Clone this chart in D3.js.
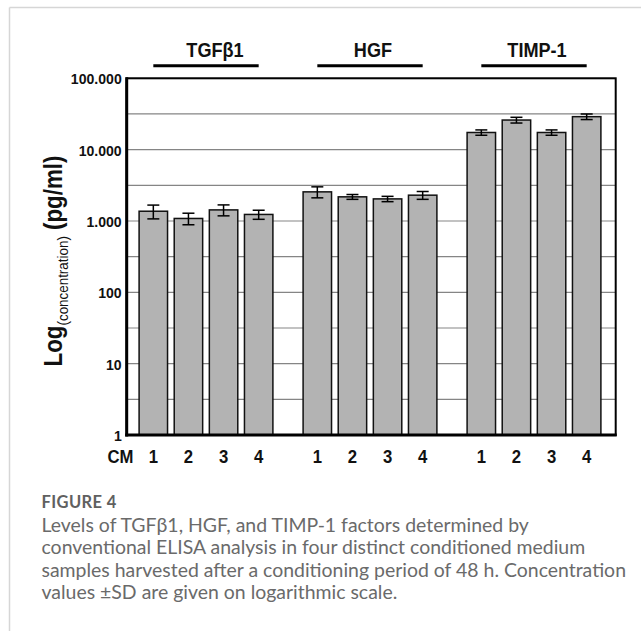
<!DOCTYPE html>
<html><head><meta charset="utf-8">
<script src="https://cdn.jsdelivr.net/npm/d3@7"></script>
<style>
html,body{margin:0;padding:0;background:#fff;}
svg{display:block;}
</style>
</head><body>
<script>
const groups = ["TGFβ1", "HGF", "TIMP-1"];
const samples = ["1", "2", "3", "4"];
const tgfValues = [1370, 1085, 1430, 1235];
const tgfSD = [300, 200, 250, 180];
const hgfValues = [2560, 2180, 2040, 2300];
const hgfSD = [450, 170, 175, 290];
const timpValues = [17400, 26000, 17400, 29000];
const timpSD = [1500, 2400, 1500, 2600];
const yTicks = [1, 10, 100, 1000, 10000, 100000];
const yTickLabels = ["1", "10", "100", "1.000", "10.000", "100.000"];
const yGrid = [1, 3.1623, 10, 31.623, 100, 316.23, 1000, 3162.3, 10000, 31623, 100000];
const captionTitle = "FIGURE 4";
const captionLines = [
  "Levels of TGFβ1, HGF, and TIMP-1 factors determined by",
  "conventional ELISA analysis in four distinct conditioned medium",
  "samples harvested after a conditioning period of 48 h. Concentration",
  "values \u00B1SD are given on logarithmic scale."
];

(function () {
const seriesValues = [tgfValues, hgfValues, timpValues];
const seriesSD = [tgfSD, hgfSD, timpSD];
const data = [];
groups.forEach((g, gi) => samples.forEach((s, si) => data.push({g, s, v: seriesValues[gi][si], sd: seriesSD[gi][si]})));

const W = 641, H = 631;
const pL = 126.7, pR = 615.7, pT = 78.3, pB = 435;
const svg = d3.select("body").append("svg").attr("width", W).attr("height", H);

// page frame
svg.append("line").attr("x1", 9.5).attr("x2", W).attr("y1", 7.5).attr("y2", 7.5).attr("stroke", "#d6d6d6").attr("stroke-width", 1.5);
svg.append("line").attr("x1", 9.5).attr("x2", 9.5).attr("y1", 7.5).attr("y2", H).attr("stroke", "#d6d6d6").attr("stroke-width", 1.5);

const y = d3.scaleLog().domain([1, 100000]).range([pB, pT]);
const xg = d3.scaleBand().domain(groups).range([124, 616]).padding(0);
const xs = d3.scaleBand().domain(samples).range([0, xg.bandwidth()]).paddingInner(0.19).paddingOuter(0.43);
const bx = d => xg(d.g) + xs(d.s);
const cx = d => bx(d) + xs.bandwidth() / 2;

// gridlines
svg.append("g").selectAll("line").data(yGrid).join("line")
  .attr("x1", pL).attr("x2", pR)
  .attr("y1", d => y(d)).attr("y2", d => y(d))
  .attr("stroke", "#858585").attr("stroke-width", 1.2);

// bars
svg.append("g").selectAll("rect").data(data).join("rect")
  .attr("x", d => bx(d)).attr("width", xs.bandwidth())
  .attr("y", d => y(d.v)).attr("height", d => pB - y(d.v))
  .attr("fill", "#b3b3b3").attr("stroke", "#111").attr("stroke-width", 1.5);

// error bars
const eb = svg.append("g").attr("stroke", "#000").attr("stroke-width", 1.5);
eb.selectAll("line.v").data(data).join("line").attr("class", "v")
  .attr("x1", cx).attr("x2", cx).attr("y1", d => y(d.v + d.sd)).attr("y2", d => y(d.v - d.sd));
eb.selectAll("line.t").data(data).join("line").attr("class", "t")
  .attr("x1", d => cx(d) - 6).attr("x2", d => cx(d) + 6).attr("y1", d => y(d.v + d.sd)).attr("y2", d => y(d.v + d.sd));
eb.selectAll("line.b").data(data).join("line").attr("class", "b")
  .attr("x1", d => cx(d) - 6).attr("x2", d => cx(d) + 6).attr("y1", d => y(d.v - d.sd)).attr("y2", d => y(d.v - d.sd));

// frame
svg.append("rect").attr("x", pL).attr("y", pT).attr("width", pR - pL).attr("height", pB - pT)
  .attr("fill", "none").attr("stroke", "#000").attr("stroke-width", 2);
svg.append("line").attr("x1", pL).attr("x2", pL).attr("y1", pT - 1).attr("y2", pB + 1.5).attr("stroke", "#000").attr("stroke-width", 3);
svg.append("line").attr("x1", pL - 1.5).attr("x2", pR + 1).attr("y1", pB).attr("y2", pB).attr("stroke", "#000").attr("stroke-width", 3);

const font = "'Liberation Sans', Arial, sans-serif";
// condensed text helper: draws text at (x,y) compressed horizontally by sx
function ctext(parent, x, yy, sx, str, size, anchor, extra) {
  const g = parent.append("g").attr("transform", `translate(${x},${yy}) scale(${sx},1)`);
  const t = g.append("text").attr("x", 0).attr("y", 0).attr("text-anchor", anchor)
    .attr("font-family", font).attr("font-weight", "bold").attr("font-size", size).attr("fill", "#111").text(str);
  return t;
}

// y tick labels
const tg = svg.append("g");
yTicks.forEach((d, i) => ctext(tg, pL - 5, y(d) + 6, 0.92, yTickLabels[i], 15.3, "end"));

// x labels
const xl = svg.append("g");
data.forEach(d => ctext(xl, cx(d), 463.3, 0.88, d.s, 19, "middle"));
ctext(xl, 133.5, 463.3, 0.88, "CM", 19, "end");

// group labels and lines
groups.forEach(g => {
  const first = data.find(d => d.g === g && d.s === samples[0]);
  const last = data.find(d => d.g === g && d.s === samples[samples.length - 1]);
  svg.append("line").attr("x1", cx(first)).attr("x2", cx(last)).attr("y1", 65.7).attr("y2", 65.7)
    .attr("stroke", "#000").attr("stroke-width", 3);
  ctext(svg, (cx(first) + cx(last)) / 2 + (g === groups[0] ? 9 : 3), 56.8, 0.93, g, 19.5, "middle");
});

// y title (rotated, condensed along its length)
const tgTitle = svg.append("g");
const yt = tgTitle.append("text").attr("text-anchor", "middle").attr("font-family", font).attr("fill", "#111");
yt.append("tspan").attr("font-weight", "bold").attr("font-size", 25).text("Log");
yt.append("tspan").attr("font-size", 15).attr("dy", 5.5).text("(concentration)");
yt.append("tspan").attr("font-weight", "bold").attr("font-size", 25).attr("dy", -5.5).text(" (pg/ml)");
const tlen = yt.node().getComputedTextLength();
const tsx = 211 / tlen;
tgTitle.attr("transform", `translate(62,261) rotate(-90) scale(${tsx},1)`);

// caption
const cfont = "Lato, 'Open Sans', sans-serif";
svg.append("text").attr("x", 41.5).attr("y", 508.3).attr("font-family", cfont).attr("font-weight", "bold")
  .attr("font-size", 16.5).attr("fill", "#606060").attr("letter-spacing", 0.4).text(captionTitle);
const cap = svg.append("g");
captionLines.forEach((l, i) => {
  cap.append("text").attr("x", 41.5).attr("y", 531.5 + i * 22.6)
    .attr("font-family", cfont).attr("font-size", 16.5).attr("fill", "#6a6a6a").text(l);
});
const t3 = cap.selectAll("text").nodes()[2];
const w3 = t3.getComputedTextLength();
const fs = 16.5 * 585 / w3;
cap.selectAll("text").attr("font-size", fs);
})();
</script>
</body></html>
